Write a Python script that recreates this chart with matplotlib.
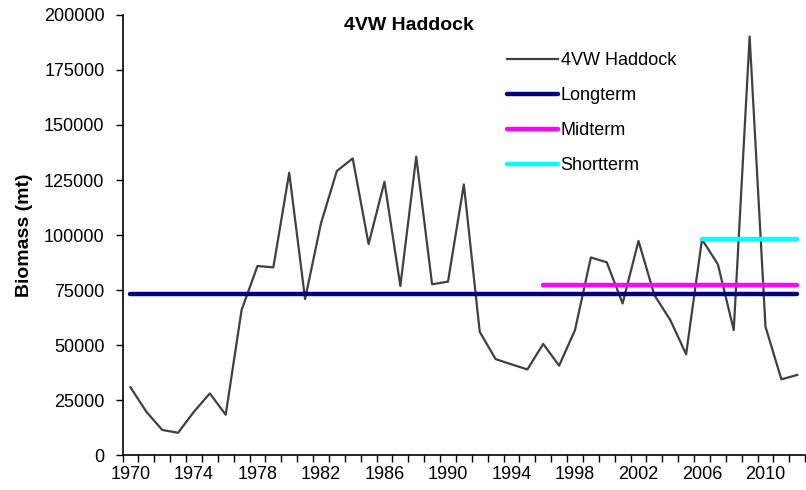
#!/usr/bin/env python3

import matplotlib.pyplot as plt

plt.rcParams['font.family'] = ['Liberation Sans', 'DejaVu Sans']

years = list(range(1970, 2013))
biomass = [30800, 19700, 11400, 10100, 19700, 28000, 18300, 65900, 85900, 85300,
           128300, 70900, 105300, 129100, 134800, 95900, 124200, 76800, 135600, 77600,
           78800, 123000, 56000, 43600, 41200, 38900, 50500, 40600, 56800, 89800,
           87600, 68900, 97300, 72700, 61400, 45800, 98000, 86700, 56800, 190200,
           58300, 34400, 36400]

longterm = 73200
longterm_years = [1970, 2012]
midterm = 77300
midterm_years = [1996, 2012]
shortterm = 98200
shortterm_years = [2006, 2012]

fig = plt.figure(figsize=(8.06, 4.9), dpi=100)
ax = fig.add_axes([0.152, 0.0714, 0.847, 0.898])

ax.plot(years, biomass, color='#404040', lw=1.6, label='4VW Haddock')
ax.plot(longterm_years, [longterm] * 2, color='#000080', lw=3.2,
        solid_capstyle='round', label='Longterm')
ax.plot(midterm_years, [midterm] * 2, color='#FF00FF', lw=3.2,
        solid_capstyle='round', label='Midterm')
ax.plot(shortterm_years, [shortterm] * 2, color='#00FFFF', lw=3.2,
        solid_capstyle='round', label='Shortterm')

ax.set_xlim(1969.5, 2012.5)
ax.set_ylim(0, 200000)
ax.set_yticks(range(0, 200001, 25000))
ax.set_xticks(range(1970, 2011, 4))
ax.set_xticks([y - 0.5 for y in range(1970, 2014)], minor=True)
ax.tick_params(axis='x', which='major', length=0, labelsize=13, pad=8)
ax.tick_params(axis='x', which='minor', length=5, direction='out', width=1)
ax.tick_params(axis='y', length=5, direction='out', labelsize=13, width=1, pad=8)

for s in ['top', 'right']:
    ax.spines[s].set_visible(False)
for s in ['left', 'bottom']:
    ax.spines[s].set_linewidth(1.2)

ax.set_ylabel('Biomass (mt)', fontsize=14, fontweight='bold', labelpad=8)
ax.text(0.42, 0.995, '4VW Haddock', transform=ax.transAxes, ha='center', va='top',
        fontsize=14, fontweight='bold')

ax.legend(loc='upper left', bbox_to_anchor=(0.54, 0.953), frameon=False,
          fontsize=13, handlelength=2.8, labelspacing=1.0, handletextpad=0.15)

plt.savefig('out.png', dpi=100)
